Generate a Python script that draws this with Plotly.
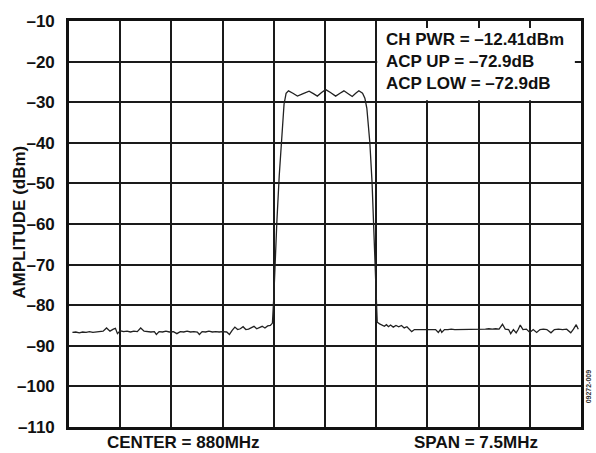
import plotly.graph_objects as go

# ---- data ----
noise_low_freq = [876.30, 876.35, 876.40, 876.45, 876.50, 876.55, 876.60, 876.65, 876.70, 876.75,
                  876.80, 876.85, 876.90, 876.93, 876.96, 877.00, 877.05, 877.10, 877.15, 877.20,
                  877.25, 877.30, 877.35, 877.40, 877.45, 877.50, 877.53, 877.57, 877.62, 877.67,
                  877.72, 877.78, 877.83, 877.88, 877.93, 877.98, 878.03, 878.08, 878.13, 878.16,
                  878.20, 878.25, 878.30, 878.35, 878.40, 878.45, 878.50, 878.56, 878.60, 878.64,
                  878.68, 878.72, 878.76, 878.80, 878.84, 878.88, 878.92, 878.96, 879.00, 879.04,
                  879.08, 879.12, 879.16, 879.20, 879.23]
noise_low_amp = [-86.7, -86.6, -86.8, -86.6, -86.7, -86.5, -86.7, -86.6, -86.5, -86.4,
                 -85.6, -86.4, -85.9, -85.7, -87.0, -86.3, -86.5, -86.4, -86.6, -86.4,
                 -86.5, -85.6, -86.4, -86.5, -86.6, -86.5, -87.2, -86.5, -86.6, -86.4,
                 -86.6, -86.5, -87.0, -86.5, -86.6, -86.4, -86.6, -86.5, -86.6, -87.2,
                 -86.5, -86.6, -86.4, -86.6, -86.5, -86.6, -86.5, -86.6, -87.2, -86.2,
                 -85.4, -86.0, -85.8, -85.3, -86.0, -85.9, -85.6, -85.2, -85.8, -85.4,
                 -85.2, -85.6, -85.1, -85.0, -84.4]

channel_freq = [879.25, 879.27, 879.295, 879.33, 879.37, 879.40, 879.43, 879.465, 879.53, 879.596,
                879.68, 879.767, 879.83, 879.888, 879.95, 880.010, 880.08, 880.156, 880.22, 880.277,
                880.34, 880.399, 880.45, 880.496, 880.55, 880.584, 880.613, 880.657, 880.69, 880.715,
                880.735, 880.75, 880.765, 880.80, 880.83]
channel_amp = [-78.0, -68.0, -59.4, -48.0, -38.0, -30.5, -27.8, -27.2, -27.8, -28.5,
               -27.9, -27.3, -27.9, -28.5, -27.6, -26.9, -27.6, -28.5, -27.8, -27.2,
               -27.9, -28.6, -27.8, -27.2, -27.8, -29.0, -31.5, -40.0, -50.0, -62.0,
               -74.0, -82.0, -84.2, -84.6, -84.9]

noise_up_freq = [880.87, 880.90, 880.93, 880.96, 881.00, 881.04, 881.08, 881.12, 881.16, 881.20,
                 881.24, 881.27, 881.31, 881.36, 881.41, 881.46, 881.51, 881.56, 881.62, 881.66,
                 881.69, 881.71, 881.75, 881.80, 881.85, 881.90, 881.95, 882.00, 882.05, 882.10,
                 882.15, 882.20, 882.25, 882.30, 882.35, 882.40, 882.45, 882.50, 882.55, 882.60,
                 882.64, 882.69, 882.72, 882.76, 882.80, 882.83, 882.86, 882.90, 882.95, 883.00,
                 883.05, 883.10, 883.15, 883.20, 883.25, 883.31, 883.36, 883.42, 883.48, 883.54,
                 883.60, 883.64, 883.68, 883.71]
noise_up_amp = [-85.2, -84.8, -85.3, -84.9, -85.4, -85.0, -85.3, -85.0, -85.6, -85.3,
                -85.9, -86.5, -86.0, -86.0, -85.9, -86.0, -86.0, -85.9, -86.0, -86.7,
                -86.0, -86.7, -86.0, -86.0, -85.9, -86.0, -86.0, -85.9, -86.0, -86.0,
                -85.9, -86.0, -85.9, -86.0, -85.9, -85.8, -85.9, -85.8, -85.9, -84.7,
                -85.9, -86.0, -87.0, -86.0, -86.8, -86.0, -84.9, -86.0, -85.9, -86.7,
                -86.0, -86.7, -86.0, -85.9, -86.0, -86.8, -86.0, -85.9, -86.0, -85.9,
                -86.8, -85.9, -84.8, -85.9]

y_tick_vals = [-110, -100, -90, -80, -70, -60, -50, -40, -30, -20, -10]
y_tick_text = ["–110", "–100", "–90", "–80", "–70", "–60", "–50", "–40", "–30", "–20", "–10"]

readout_lines = ["CH PWR = –12.41dBm", "ACP UP = –72.9dB", "ACP LOW = –72.9dB"]
center_label = "CENTER = 880MHz"
span_label = "SPAN = 7.5MHz"
y_title = "AMPLITUDE (dBm)"
fig_id = "09272-009"

x_start, x_end, x_div = 876.25, 883.75, 0.75

freq = noise_low_freq + channel_freq + noise_up_freq
amp = noise_low_amp + channel_amp + noise_up_amp

FONT = "Liberation Sans, Arial, sans-serif"
INK = "#111111"
FS = 17

fig = go.Figure()
fig.add_trace(go.Scatter(x=freq, y=amp, mode="lines",
                         line=dict(color="#222222", width=1.3), hoverinfo="skip"))

# white readout box
fig.add_shape(type="rect", xref="x", yref="y", x0=880.765, x1=883.66, y0=-29.55, y1=-11.7,
              fillcolor="white", line=dict(width=0), layer="above")
fig.add_annotation(xref="x", yref="y", x=880.86, y=-20.0, xanchor="left", yanchor="middle",
                   text="<br>".join(readout_lines), showarrow=False, align="left",
                   font=dict(family=FONT, size=FS, color=INK, weight="bold"))

fig.add_annotation(xref="paper", yref="paper", x=0.2237, y=-0.039, xanchor="center", yanchor="middle",
                   text=center_label, showarrow=False,
                   font=dict(family=FONT, size=FS, color=INK, weight="bold"))
fig.add_annotation(xref="paper", yref="paper", x=0.794, y=-0.039, xanchor="center", yanchor="middle",
                   text=span_label, showarrow=False,
                   font=dict(family=FONT, size=FS, color=INK, weight="bold"))
fig.add_annotation(xref="paper", yref="paper", x=-0.097, y=0.504, xanchor="center", yanchor="middle",
                   text=y_title, textangle=-90, showarrow=False,
                   font=dict(family=FONT, size=FS, color=INK, weight="bold"))
fig.add_annotation(xref="paper", yref="paper", x=1.0136, y=0.10, xanchor="center", yanchor="middle",
                   text=fig_id, textangle=-90, showarrow=False,
                   font=dict(family=FONT, size=7, color="#333", weight="bold"))

fig.update_xaxes(range=[x_start, x_end], tick0=x_start, dtick=x_div, showticklabels=False,
                 ticks="", showgrid=True, gridcolor="#1a1a1a", gridwidth=1.8, zeroline=False,
                 showline=True, linecolor="#111", linewidth=2.6, mirror=True)
fig.update_yaxes(range=[-110, -10], tickvals=y_tick_vals, ticktext=y_tick_text, ticks="",
                 ticklabelstandoff=8, showgrid=True, gridcolor="#1a1a1a", gridwidth=1.8,
                 zeroline=False, showline=True, linecolor="#111", linewidth=2.6, mirror=True,
                 tickfont=dict(family=FONT, size=FS, color=INK, weight="bold"))

fig.update_layout(width=596, height=453, margin=dict(l=69, r=13, t=18, b=26),
                  paper_bgcolor="white", plot_bgcolor="white", showlegend=False,
                  font=dict(family=FONT, size=FS, color=INK))

fig.write_html("out.html", config={"displayModeBar": False},
               post_script="document.body.style.margin='0';document.body.style.overflow='hidden';")
